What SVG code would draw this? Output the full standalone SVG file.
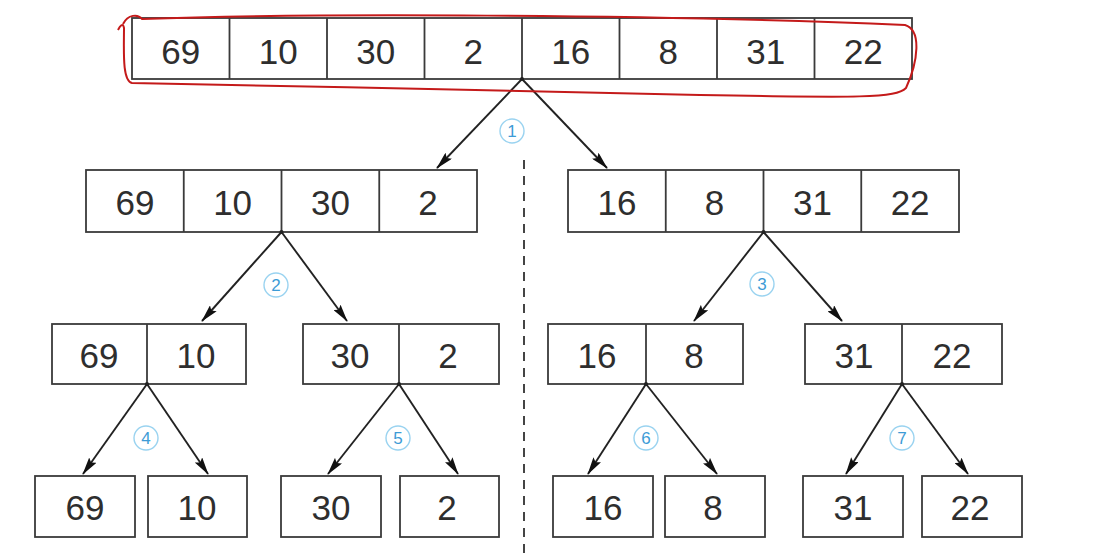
<svg xmlns="http://www.w3.org/2000/svg" width="1100" height="555" viewBox="0 0 1100 555">
<style>
.box{fill:#fff;stroke:#3a3a3a;stroke-width:1.8}
.div{stroke:#3a3a3a;stroke-width:1.8}
.num{font-family:"Liberation Sans",Arial,sans-serif;font-size:35px;fill:#2e2e2e;text-anchor:middle}
.edge{stroke:#222;stroke-width:1.9;fill:none;marker-end:url(#ah)}
.dot{fill:#222}
.lc{fill:none;stroke:#9ad3f0;stroke-width:1.4}
.lt{font-family:"Liberation Sans",Arial,sans-serif;font-size:17px;fill:#3d9bd6;text-anchor:middle}
</style>
<defs>
<marker id="ah" viewBox="0 0 18 9" refX="17" refY="4.5" markerWidth="18" markerHeight="9" orient="auto" markerUnits="userSpaceOnUse">
<path d="M0,0 L18,4.5 L0,9 L3,4.5 z" fill="#111"/>
</marker>
</defs>
<rect width="1100" height="555" fill="#fff"/>

<g id="n-top">
<rect class="box" x="132" y="18" width="780" height="61"/>
<path class="div" d="M229.5,18V79M327,18V79M424.5,18V79M522,18V79M619.5,18V79M717,18V79M814.5,18V79"/>
<text class="num" x="180.75" y="64">69</text>
<text class="num" x="278.25" y="64">10</text>
<text class="num" x="375.75" y="64">30</text>
<text class="num" x="473.25" y="64">2</text>
<text class="num" x="570.75" y="64">16</text>
<text class="num" x="668.25" y="64">8</text>
<text class="num" x="765.75" y="64">31</text>
<text class="num" x="863.25" y="64">22</text>
</g>

<g id="n-l2a">
<rect class="box" x="86" y="170" width="391" height="62"/>
<path class="div" d="M183.75,170V232M281.5,170V232M379.25,170V232"/>
<text class="num" x="134.9" y="215">69</text>
<text class="num" x="232.6" y="215">10</text>
<text class="num" x="330.4" y="215">30</text>
<text class="num" x="428.1" y="215">2</text>
</g>

<g id="n-l2b">
<rect class="box" x="568" y="170" width="391" height="62"/>
<path class="div" d="M665.75,170V232M763.5,170V232M861.25,170V232"/>
<text class="num" x="616.9" y="215">16</text>
<text class="num" x="714.6" y="215">8</text>
<text class="num" x="812.4" y="215">31</text>
<text class="num" x="910.1" y="215">22</text>
</g>

<g id="n-l3a">
<rect class="box" x="52" y="324" width="194" height="60"/>
<path class="div" d="M147,324V384"/>
<text class="num" x="99" y="368">69</text>
<text class="num" x="196" y="368">10</text>
</g>
<g id="n-l3b">
<rect class="box" x="303" y="324" width="196" height="60"/>
<path class="div" d="M399,324V384"/>
<text class="num" x="350" y="368">30</text>
<text class="num" x="448" y="368">2</text>
</g>
<g id="n-l3c">
<rect class="box" x="548" y="324" width="195" height="60"/>
<path class="div" d="M646,324V384"/>
<text class="num" x="597" y="368">16</text>
<text class="num" x="694" y="368">8</text>
</g>
<g id="n-l3d">
<rect class="box" x="805" y="324" width="197" height="60"/>
<path class="div" d="M902,324V384"/>
<text class="num" x="854" y="368">31</text>
<text class="num" x="952" y="368">22</text>
</g>

<g id="n-l4-69"><rect class="box" x="35" y="476" width="100" height="61"/><text class="num" x="85" y="520">69</text></g>
<g id="n-l4-10"><rect class="box" x="148" y="476" width="99" height="61"/><text class="num" x="197" y="520">10</text></g>
<g id="n-l4-30"><rect class="box" x="281" y="476" width="100" height="61"/><text class="num" x="331" y="520">30</text></g>
<g id="n-l4-2"><rect class="box" x="400" y="476" width="99" height="61"/><text class="num" x="447" y="520">2</text></g>
<g id="n-l4-16"><rect class="box" x="553" y="476" width="100" height="61"/><text class="num" x="603" y="520">16</text></g>
<g id="n-l4-8"><rect class="box" x="665" y="476" width="100" height="61"/><text class="num" x="713" y="520">8</text></g>
<g id="n-l4-31"><rect class="box" x="803" y="476" width="100" height="61"/><text class="num" x="853" y="520">31</text></g>
<g id="n-l4-22"><rect class="box" x="922" y="476" width="100" height="61"/><text class="num" x="970" y="520">22</text></g>

<g id="connectors">
<line class="edge" x1="522" y1="79" x2="437" y2="168"/>
<line class="edge" x1="522" y1="79" x2="607" y2="168"/>
<line class="edge" x1="281.5" y1="232" x2="202" y2="321"/>
<line class="edge" x1="281.5" y1="232" x2="347" y2="321"/>
<line class="edge" x1="763.5" y1="232" x2="694" y2="321"/>
<line class="edge" x1="763.5" y1="232" x2="842" y2="321"/>
<line class="edge" x1="147" y1="384" x2="83" y2="474"/>
<line class="edge" x1="147" y1="384" x2="208" y2="474"/>
<line class="edge" x1="399" y1="384" x2="328" y2="474"/>
<line class="edge" x1="399" y1="384" x2="458" y2="474"/>
<line class="edge" x1="646" y1="384" x2="588" y2="474"/>
<line class="edge" x1="646" y1="384" x2="717" y2="474"/>
<line class="edge" x1="902" y1="384" x2="846" y2="474"/>
<line class="edge" x1="902" y1="384" x2="968" y2="474"/>
<circle class="dot" cx="522" cy="79" r="2"/>
<circle class="dot" cx="281.5" cy="232" r="2"/>
<circle class="dot" cx="763.5" cy="232" r="2"/>
<circle class="dot" cx="147" cy="384" r="2"/>
<circle class="dot" cx="399" cy="384" r="2"/>
<circle class="dot" cx="646" cy="384" r="2"/>
<circle class="dot" cx="902" cy="384" r="2"/>
</g>

<g id="step-labels">
<circle class="lc" cx="512" cy="131" r="12"/><text class="lt" x="512" y="137">1</text>
<circle class="lc" cx="276" cy="285" r="12"/><text class="lt" x="276" y="291">2</text>
<circle class="lc" cx="762" cy="284" r="12"/><text class="lt" x="762" y="290">3</text>
<circle class="lc" cx="146" cy="438" r="12"/><text class="lt" x="146" y="444">4</text>
<circle class="lc" cx="398" cy="438" r="12"/><text class="lt" x="398" y="444">5</text>
<circle class="lc" cx="646" cy="438" r="12"/><text class="lt" x="646" y="444">6</text>
<circle class="lc" cx="902" cy="438" r="12"/><text class="lt" x="902" y="444">7</text>
</g>

<line id="divider" x1="524" y1="160" x2="524" y2="555" stroke="#444" stroke-width="2" stroke-dasharray="9,7"/>

<path id="red-loop" d="M123,24 C128,14 138,14 142,19 C300,13 650,14 905,25 C922,30 918,62 906,88 C896,98 860,98 700,95 C520,92 320,86 132,83 C122,81 124,50 124,28 C123,22 120,26 118,30" fill="none" stroke="#c41a1a" stroke-width="2"/>
</svg>
